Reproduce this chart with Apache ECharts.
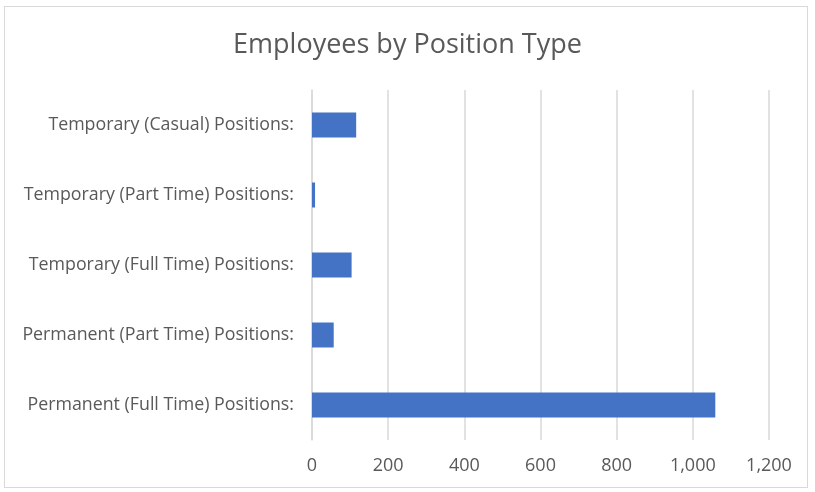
<!DOCTYPE html>
<html>
<head>
<meta charset="utf-8">
<script src="https://cdn.jsdelivr.net/npm/echarts@6/dist/echarts.min.js"></script>
<style>
  html, body { margin: 0; padding: 0; background: #fff; }
  #frame { position: absolute; left: 4px; top: 6px; width: 804px; height: 482px; border: 1px solid #d9d9d9; box-sizing: border-box; }
  #chart { width: 815px; height: 492px; }
</style>
</head>
<body>
<div id="frame"></div>
<div id="chart"></div>
<script>
// bottom to top, as drawn
const categories = [
  'Permanent (Full Time) Positions:',
  'Permanent (Part Time) Positions:',
  'Temporary (Full Time) Positions:',
  'Temporary (Part Time) Positions:',
  'Temporary (Casual) Positions:'
]
const employees = [1059, 57, 104, 8, 116]

const chart = echarts.init(document.getElementById('chart'))
chart.setOption({
  animation: false,
  title: {
    text: 'Employees by Position Type',
    left: 'center',
    top: 27,
    textStyle: { color: '#595959', fontSize: 27, fontWeight: 'normal', fontFamily: 'Open Sans' }
  },
  grid: { left: 312, right: 46, top: 90, bottom: 52 },
  xAxis: {
    type: 'value',
    min: 0,
    max: 1200,
    interval: 200,
    axisLine: { show: false },
    axisTick: { show: false },
    axisLabel: {
      color: '#595959',
      fontSize: 18,
      fontFamily: 'Open Sans',
      margin: 17,
      formatter: v => v.toLocaleString('en-US')
    },
    splitLine: { lineStyle: { color: '#d9d9d9', width: 1.5 } }
  },
  yAxis: {
    type: 'category',
    data: categories,
    axisLine: { show: true, lineStyle: { color: '#d9d9d9', width: 1.5 } },
    axisTick: { show: false },
    axisLabel: { color: '#595959', fontSize: 17.8, fontFamily: 'Open Sans', margin: 18 }
  },
  series: [{
    type: 'bar',
    data: employees,
    barWidth: 25,
    itemStyle: { color: '#4472C4' }
  }]
})
</script>
</body>
</html>
